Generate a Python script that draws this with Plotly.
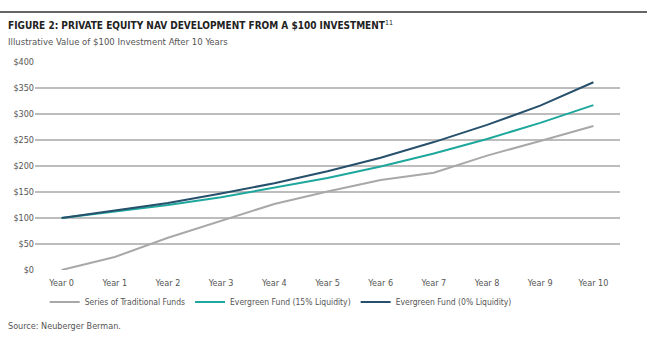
import plotly.graph_objects as go

years = ["Year 0", "Year 1", "Year 2", "Year 3", "Year 4", "Year 5",
         "Year 6", "Year 7", "Year 8", "Year 9", "Year 10"]
traditional = [0, 25, 62, 95, 127, 151, 173, 187, 220, 248, 277]
evergreen_15 = [100, 112, 125, 140, 158, 177, 199, 224, 252, 283, 317]
evergreen_0 = [100, 114, 129, 147, 167, 190, 216, 246, 279, 316, 361]
y_ticks = [0, 50, 100, 150, 200, 250, 300, 350, 400]
y_labels = ["$" + str(v) for v in y_ticks]

FONT = "DejaVu Sans Condensed, Roboto, sans-serif"

fig = go.Figure()
fig.add_trace(go.Scatter(x=years, y=traditional, mode="lines",
                         name="Series of Traditional Funds",
                         line=dict(color="#a8a8a8", width=2)))
fig.add_trace(go.Scatter(x=years, y=evergreen_15, mode="lines",
                         name="Evergreen Fund (15% Liquidity)",
                         line=dict(color="#1ea79c", width=2)))
fig.add_trace(go.Scatter(x=years, y=evergreen_0, mode="lines",
                         name="Evergreen Fund (0% Liquidity)",
                         line=dict(color="#26506b", width=2)))

fig.update_layout(
    width=647, height=351,
    margin=dict(l=35, r=27, t=62, b=81),
    paper_bgcolor="white", plot_bgcolor="white",
    font=dict(family=FONT, size=9, color="#555555"),
    showlegend=True,
    legend=dict(orientation="h", x=0.42, xanchor="center", y=-32/208, yanchor="middle",
                font=dict(family=FONT, size=8.5, color="#555555"),
                itemwidth=30, tracegroupgap=0),
    xaxis=dict(type="category", range=[-0.5, 10.5], showgrid=False,
               showline=False, ticks="", ticklabelstandoff=6,
               tickfont=dict(size=9, color="#555555")),
    yaxis=dict(range=[0, 400], tickvals=y_ticks, ticktext=y_labels,
               showgrid=True, gridcolor="#bdbdbd", gridwidth=1.5,
               zeroline=False, showline=False, ticks="", automargin=False,
               tickfont=dict(size=9, color="#555555")),
)

fig.add_shape(type="line", xref="paper", yref="paper",
              x0=-35/585, x1=(647-35)/585, y0=1 + 50/208, y1=1 + 50/208,
              line=dict(color="#333333", width=1.5))
fig.add_annotation(text="<b>FIGURE 2: PRIVATE EQUITY NAV DEVELOPMENT FROM A $100 INVESTMENT</b><sup>11</sup>",
                   xref="paper", yref="paper", x=-29/585, y=1 + 37/208,
                   xanchor="left", yanchor="middle", showarrow=False,
                   font=dict(family=FONT, size=10, color="#222222"))
fig.add_annotation(text="Illustrative Value of $100 Investment After 10 Years",
                   xref="paper", yref="paper", x=-29/585, y=1 + 20/208,
                   xanchor="left", yanchor="middle", showarrow=False,
                   font=dict(family=FONT, size=9.5, color="#555555"))
fig.add_annotation(text="Source: Neuberger Berman.",
                   xref="paper", yref="paper", x=-29/585, y=-56/208,
                   xanchor="left", yanchor="middle", showarrow=False,
                   font=dict(family=FONT, size=9, color="#555555"))

fig.write_html("out.html")
